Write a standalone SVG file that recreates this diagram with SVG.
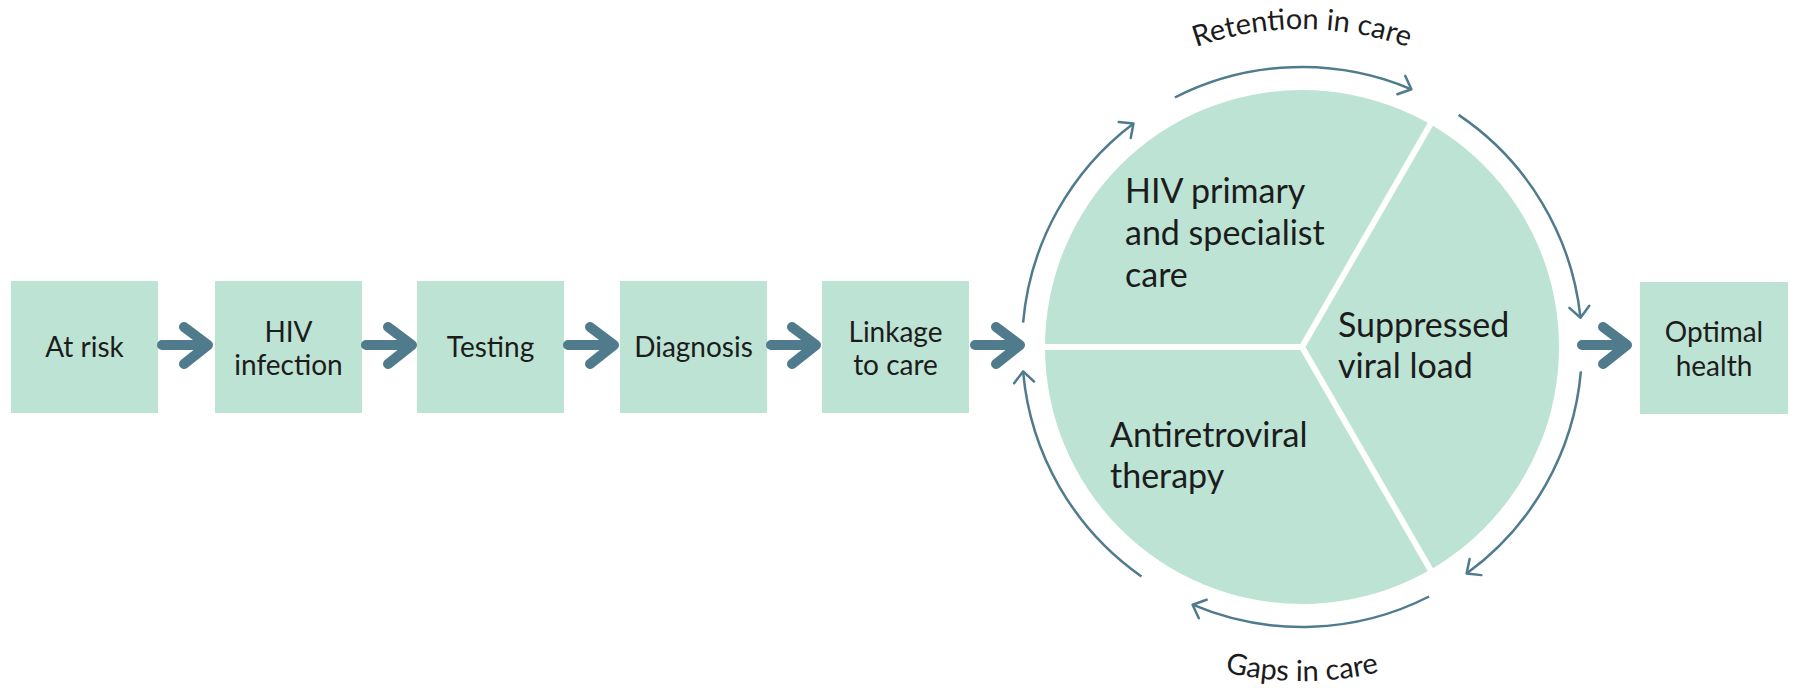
<svg xmlns="http://www.w3.org/2000/svg" width="1795" height="688" viewBox="0 0 1795 688">
<style>
.box{fill:#bde3d4}
.bt{font-family:Lato,"Open Sans","Liberation Sans",sans-serif;font-size:28px;fill:#1c1c1c;text-anchor:middle}
.ct{font-family:Lato,"Open Sans","Liberation Sans",sans-serif;font-size:34px;fill:#1c1c1c}
.lt{font-family:Lato,"Open Sans","Liberation Sans",sans-serif;font-size:29px;fill:#1c1c1c}
.fa{fill:none;stroke:#4f7b8d;stroke-width:10;stroke-linecap:round;stroke-linejoin:round}
.arc{fill:none;stroke:#4f7b8d;stroke-width:2.5;marker-end:url(#ah)}
</style>
<defs>
<marker id="ah" markerUnits="userSpaceOnUse" markerWidth="30" markerHeight="30" viewBox="-15 -15 30 30" refX="0" refY="0" orient="auto">
<path d="M-11,-10 L0,0 L-11,10" fill="none" stroke="#4f7b8d" stroke-width="2.5" stroke-linecap="round" stroke-linejoin="round"/>
</marker>
<path id="topArc" d="M1026.6,188 A318,318 0 0 1 1577.4,188"/>
<path id="botArc" d="M1012.7,514 A334,334 0 0 0 1591.3,514"/>
</defs>

<g id="n1"><rect class="box" x="11" y="281" width="147" height="132"/><text class="bt" x="84.5" y="357">At risk</text></g>
<g id="n2"><rect class="box" x="215" y="281" width="147" height="132"/><text class="bt" x="288.5" y="342">HIV</text><text class="bt" x="288.5" y="375">infection</text></g>
<g id="n3"><rect class="box" x="417" y="281" width="147" height="132"/><text class="bt" x="490.5" y="357">Testing</text></g>
<g id="n4"><rect class="box" x="620" y="281" width="147" height="132"/><text class="bt" x="693.5" y="357">Diagnosis</text></g>
<g id="n5"><rect class="box" x="822" y="281" width="147" height="132"/><text class="bt" x="895.5" y="342">Linkage</text><text class="bt" x="895.5" y="375">to care</text></g>
<g id="n7"><rect class="box" x="1640" y="282" width="148" height="132"/><text class="bt" x="1714" y="342">Optimal</text><text class="bt" x="1714" y="376">health</text></g>

<g id="cycle">
<circle cx="1302" cy="347" r="257" fill="#bde3d4"/>
<g stroke="#ffffff" stroke-width="6" stroke-linecap="butt">
<line x1="1302" y1="347" x2="1038" y2="347"/>
<line x1="1302" y1="347" x2="1434" y2="118"/>
<line x1="1302" y1="347" x2="1434" y2="576"/>
</g>
<text class="ct" x="1125" y="203">HIV primary</text>
<text class="ct" x="1125" y="245">and specialist</text>
<text class="ct" x="1125" y="287">care</text>
<text class="ct" x="1110" y="447">Antiretroviral</text>
<text class="ct" x="1110" y="488">therapy</text>
<text class="ct" x="1338" y="337">Suppressed</text>
<text class="ct" x="1338" y="378">viral load</text>
</g>

<g id="connectors">
<path class="fa" d="M162,345 H208 M184,327 L208,345 L184,364"/>
<path class="fa" d="M366,345 H412 M388,327 L412,345 L388,364"/>
<path class="fa" d="M568,345 H614 M590,327 L614,345 L590,364"/>
<path class="fa" d="M771,345 H816 M792,327 L816,345 L792,364"/>
<path class="fa" d="M975,345 H1020 M996,327 L1020,345 L996,364"/>
<path class="fa" d="M1582,345 H1627 M1603,327 L1627,345 L1603,364"/>
<path class="arc" d="M1023.1,322.6 A280,280 0 0 1 1133.5,123.4"/>
<path class="arc" d="M1174.9,97.5 A280,280 0 0 1 1411.4,89.3"/>
<path class="arc" d="M1458.6,114.9 A280,280 0 0 1 1580.5,317.7"/>
<path class="arc" d="M1580.9,371.4 A280,280 0 0 1 1466.6,573.5"/>
<path class="arc" d="M1429.1,596.5 A280,280 0 0 1 1192.6,604.7"/>
<path class="arc" d="M1141.4,576.4 A280,280 0 0 1 1023.1,371.4"/>
<text class="lt"><textPath href="#topArc" startOffset="50%" text-anchor="middle">Retention in care</textPath></text>
<text class="lt"><textPath href="#botArc" startOffset="50%" text-anchor="middle">Gaps in care</textPath></text>
</g>
</svg>
